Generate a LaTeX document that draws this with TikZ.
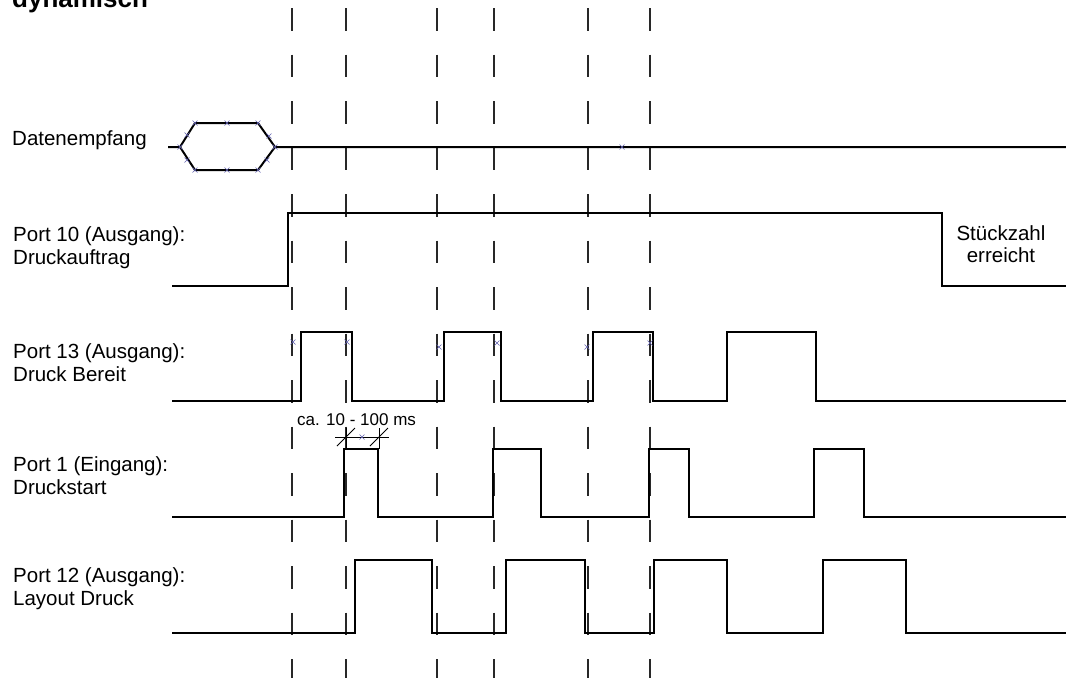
\documentclass[tikz,border=0pt]{standalone}
\usepackage{fontspec}
\setmainfont{Liberation Sans}
\usepackage{xcolor}
\usetikzlibrary{positioning}
\definecolor{sigCol}{RGB}{0,0,0}
\definecolor{guideCol}{RGB}{40,40,40}
\definecolor{xCol}{RGB}{95,95,175}
\tikzset{
  sig/.style={line width=2pt, sigCol, line join=miter},
  guide/.style={line width=1.1pt, guideCol, dash pattern=on 22.5pt off 24pt},
  dimline/.style={line width=1pt, sigCol},
  lbl/.style={anchor=base west, align=left, inner sep=0pt,
              font=\fontsize{20.5}{23}\selectfont},
  note/.style={anchor=base, align=center, inner sep=0pt,
               font=\fontsize{20.5}{22}\selectfont},
  xmk/.style={xCol, line width=0.6pt},
}
\newcommand{\Xm}[2]{\draw[xmk] (#1-2.5,#2-2.5) -- (#1+2.5,#2+2.5) (#1-2.5,#2+2.5) -- (#1+2.5,#2-2.5);}

\begin{document}
\begin{tikzpicture}[x=1pt,y=-1pt]
  \useasboundingbox (0,0) rectangle (1066,678);

  % title (cut at the top)
  \node[anchor=base west, inner sep=0pt, font=\fontsize{26}{30}\selectfont\bfseries] (title) at (12,7) {dynamisch};

  % guide lines
  \foreach \gx in {292,346,437,494,588,650}
    \draw[guide] (\gx,8) -- (\gx,678);

  % labels (base = last line)
  \node[lbl] (labD)  at (12,145) {Datenempfang};
  \node[lbl] (lab10) at (13,264) {Port 10 (Ausgang):\\Druckauftrag};
  \node[lbl] (lab13) at (13,381) {Port 13 (Ausgang):\\Druck Bereit};
  \node[lbl] (lab1)  at (13,494) {Port 1 (Eingang):\\Druckstart};
  \node[lbl] (lab12) at (13,605) {Port 12 (Ausgang):\\Layout Druck};
  \node[note] (stk) at (1001,262) {St\"uckzahl\\erreicht};

  % Datenempfang
  \draw[sig] (168,147) -- (180,147) -- (195,123) -- (258,123) -- (275,147) -- (1066,147);
  \draw[sig] (180,147) -- (195,170) -- (258,170) -- (275,147);
  % Port 10
  \draw[sig] (172,286) -| (288,213) -| (942,286) -- (1066,286);
  % Port 13
  \draw[sig] (172,401) -| (301,332) -| (352,401) -| (444,332) -| (501,401)
    -| (593,332) -| (653,401) -| (727,332) -| (816,401) -- (1066,401);
  % Port 1
  \draw[sig] (172,517) -| (344,449) -| (378,517) -| (493,449) -| (541,517)
    -| (649,449) -| (689,517) -| (814,449) -| (864,517) -- (1066,517);
  % Port 12
  \draw[sig] (172,633) -| (355,560) -| (432,633) -| (506,560) -| (585,633)
    -| (654,560) -| (727,633) -| (823,560) -| (906,633) -- (1066,633);

  % dimension ca. 10 - 100 ms
  \node[anchor=base west, inner sep=0pt, font=\fontsize{17}{20}\selectfont] (dimT) at (297,425) {ca. 10 - 100 ms};
  \draw[dimline] (346,428) -- (346,449) (379,428) -- (379,449) (335,437) -- (389,437);
  \draw[dimline] (337,446) -- (355,428) (370,446) -- (388,428);

  % edit marks
  \Xm{180}{147} \Xm{187}{135} \Xm{187}{160} \Xm{195}{123} \Xm{227}{123} \Xm{258}{123}
  \Xm{195}{170} \Xm{227}{170} \Xm{258}{170} \Xm{269}{136} \Xm{267}{160} \Xm{275}{147}
  \Xm{622}{147}
  \Xm{293}{342} \Xm{347}{342} \Xm{439}{347} \Xm{497}{343} \Xm{587}{347} \Xm{650}{343}
  \Xm{362}{437}
\end{tikzpicture}
\end{document}
